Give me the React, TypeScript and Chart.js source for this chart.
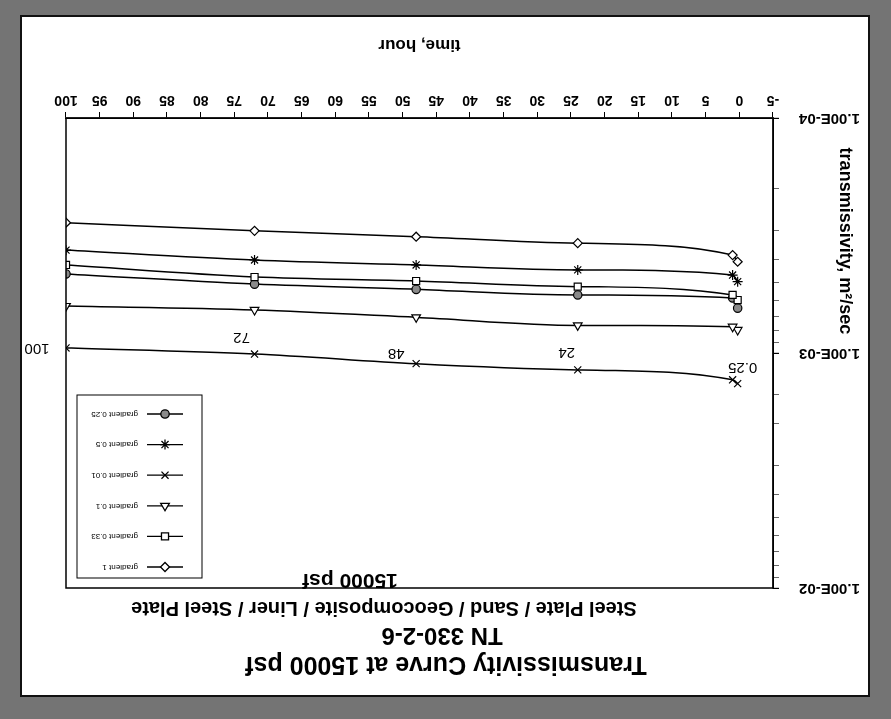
import React, { useEffect, useRef } from 'react';
import { Chart, registerables } from 'chart.js';
import { drawPoint } from 'chart.js/helpers';

Chart.register(...registerables);

// ---------- data ----------
const titleLines = [
  'Transmissivity Curve at 15000 psf',
  'TN 330-2-6',
  'Steel Plate / Sand / Geocomposite / Liner / Steel Plate',
  '15000 psf',
];
const xAxisTitle = 'time, hour';
const yAxisTitle = 'transmissivity, m\u00B2/sec';

const timeHours = [0.25, 1, 24, 48, 72, 100];

const seriesLabels = ['gradient 1', 'gradient 0.33', 'gradient 0.1', 'gradient 0.01', 'gradient 0.5', 'gradient 0.25'];
const gradient1 = [4.09e-4, 3.83e-4, 3.41e-4, 3.2e-4, 3.02e-4, 2.79e-4];
const gradient033 = [5.95e-4, 5.66e-4, 5.22e-4, 4.94e-4, 4.75e-4, 4.22e-4];
const gradient01 = [7.98e-4, 7.73e-4, 7.63e-4, 7.05e-4, 6.56e-4, 6.31e-4];
const gradient001 = [1.35e-3, 1.3e-3, 1.18e-3, 1.11e-3, 1.01e-3, 9.52e-4];
const gradient05 = [4.97e-4, 4.66e-4, 4.43e-4, 4.22e-4, 4.02e-4, 3.65e-4];
const gradient025 = [6.44e-4, 5.83e-4, 5.66e-4, 5.36e-4, 5.09e-4, 4.61e-4];

// labels written next to the gradient 0.01 points
const pointLabels = ['0.25', '', '24', '48', '72', '100'];

const xMin = -5;
const xMax = 100;
const xStep = 5;
const yMin = 1e-4;
const yMax = 1e-2;
const yTickValues = [1e-4, 1e-3, 1e-2];
const yTickLabels = ['1.00E-04', '1.00E-03', '1.00E-02'];

// ---------- styling ----------
const FONT = "'Liberation Sans', Arial, Helvetica, sans-serif";
const seriesValues = [gradient1, gradient033, gradient01, gradient001, gradient05, gradient025];
const seriesStyles = [
  { pointStyle: 'rectRot', radius: 4.5, fill: '#ffffff' },
  { pointStyle: 'rect', radius: 5, fill: '#ffffff' },
  { pointStyle: 'triangle', radius: 5, fill: '#ffffff' },
  { pointStyle: 'crossRot', radius: 5, fill: '#ffffff' },
  { pointStyle: 'star', radius: 5, fill: '#ffffff' },
  { pointStyle: 'circle', radius: 4.2, fill: '#8a8a8a' },
];
const labelSeriesIndex = 3;
const labelOffsets = [
  [-5, 16],
  [0, 0],
  [11, 18],
  [20, 11],
  [13, 17],
  [29, 0],
];
const titleLayout = [
  { x: 422, y: 31, size: 25 },
  { x: 426, y: 60, size: 24 },
  { x: 484, y: 87, size: 20 },
  { x: 518, y: 115, size: 21 },
];

const decorPlugin = {
  id: 'decor',
  beforeDraw(chart: any) {
    const { ctx, width, height } = chart;
    ctx.save();
    ctx.fillStyle = '#ffffff';
    ctx.fillRect(0, 0, width, height);
    ctx.restore();
  },
  afterDraw(chart: any) {
    const { ctx, chartArea: a } = chart;
    ctx.save();
    // plot frame
    ctx.strokeStyle = '#000';
    ctx.lineWidth = 1.5;
    ctx.strokeRect(a.left, a.top, a.right - a.left, a.bottom - a.top);

    ctx.fillStyle = '#000';
    ctx.textAlign = 'center';
    ctx.textBaseline = 'middle';
    // titles
    titleLayout.forEach((t, i) => {
      ctx.font = `bold ${t.size}px ${FONT}`;
      ctx.fillText(titleLines[i], t.x, t.y);
    });
    // x axis title
    ctx.font = `bold 17px ${FONT}`;
    ctx.fillText(xAxisTitle, (a.left + a.right) / 2, 650);
    // y axis title
    ctx.save();
    ctx.translate(23, 454);
    ctx.rotate(-Math.PI / 2);
    ctx.font = `bold 18px ${FONT}`;
    ctx.fillText(yAxisTitle, 0, 0);
    ctx.restore();

    // data labels
    const meta = chart.getDatasetMeta(labelSeriesIndex);
    ctx.font = `15px ${FONT}`;
    pointLabels.forEach((lab, i) => {
      if (!lab) return;
      const p = meta.data[i];
      ctx.fillText(lab, p.x + labelOffsets[i][0], p.y + labelOffsets[i][1]);
    });

    // legend
    const lx = 666;
    const ly = 117;
    const lw = 125;
    const lh = 183;
    ctx.fillStyle = '#fff';
    ctx.fillRect(lx, ly, lw, lh);
    ctx.strokeStyle = '#000';
    ctx.lineWidth = 1;
    ctx.strokeRect(lx, ly, lw, lh);
    chart.data.datasets.forEach((ds: any, i: number) => {
      const y = ly + 11 + i * 30.6;
      ctx.strokeStyle = '#000';
      ctx.lineWidth = 1.3;
      ctx.beginPath();
      ctx.moveTo(lx + 19, y);
      ctx.lineTo(lx + 55, y);
      ctx.stroke();
      ctx.fillStyle = seriesStyles[i].fill;
      drawPoint(ctx, { pointStyle: ds.pointStyle, radius: ds.pointRadius, rotation: 0, borderWidth: 1.2 }, lx + 37, y);
      ctx.fillStyle = '#000';
      ctx.textAlign = 'left';
      ctx.font = `8px ${FONT}`;
      ctx.fillText(ds.label, lx + 64, y);
    });
    ctx.restore();
  },
};

export default function App() {
  const ref = useRef<HTMLCanvasElement>(null);
  useEffect(() => {
    const canvas = ref.current;
    if (!canvas) return;
    const datasets = seriesLabels.map((label, i) => ({
      label,
      data: timeHours.map((t, j) => ({ x: t, y: seriesValues[i][j] })),
      borderColor: '#000',
      borderWidth: 1.5,
      backgroundColor: seriesStyles[i].fill,
      pointStyle: seriesStyles[i].pointStyle,
      pointRadius: seriesStyles[i].radius,
      pointBorderColor: '#000',
      pointBackgroundColor: seriesStyles[i].fill,
      pointBorderWidth: 1.2,
      cubicInterpolationMode: 'monotone',
      fill: false,
    }));
    const chart = new Chart(canvas, {
      type: 'line',
      data: { datasets } as any,
      plugins: [decorPlugin],
      options: {
        animation: false,
        responsive: false,
        devicePixelRatio: 1,
        layout: { padding: { top: 107, right: 44, left: 0, bottom: 0 } },
        plugins: { legend: { display: false }, tooltip: { enabled: false }, title: { display: false } },
        scales: {
          x: {
            type: 'linear',
            min: xMin,
            max: xMax,
            afterFit: (s: any) => {
              s.height = 101;
            },
            ticks: {
              stepSize: xStep,
              color: '#000',
              font: { family: FONT, size: 14, weight: 'bold' },
              padding: 4,
              maxRotation: 0,
              autoSkip: false,
              callback: (v: any) => String(v),
            },
            grid: { drawOnChartArea: false, drawTicks: true, tickLength: 6, color: '#000', lineWidth: 1 },
            border: { display: true, color: '#000', width: 1.5 },
          },
          y: {
            type: 'logarithmic',
            min: yMin,
            max: yMax,
            afterFit: (s: any) => {
              s.width = 95;
            },
            ticks: {
              color: '#000',
              font: { family: FONT, size: 15, weight: 'bold' },
              padding: 20,
              autoSkip: false,
              callback: (v: any) => {
                const idx = yTickValues.findIndex((t) => Math.abs(t - v) / t < 1e-6);
                return idx >= 0 ? yTickLabels[idx] : '';
              },
            },
            grid: {
              drawOnChartArea: false,
              drawTicks: true,
              tickLength: 6,
              color: '#000',
              lineWidth: (c: any) => (yTickValues.some((t) => Math.abs(t - c.tick?.value) / t < 1e-6) ? 1.2 : 0.6),
            },
            border: { display: true, color: '#000', width: 1.5 },
          },
        },
      } as any,
    });
    return () => chart.destroy();
  }, []);

  return (
    <div style={{ position: 'absolute', left: 0, top: 0, width: 891, height: 719, background: '#747474', overflow: 'hidden' }}>
      <div
        style={{
          position: 'absolute',
          left: 20,
          top: 15,
          width: 850,
          height: 682,
          background: '#fff',
          border: '2px solid #111',
          boxSizing: 'border-box',
        }}
      >
        <canvas
          ref={ref}
          width={846}
          height={678}
          style={{ display: 'block', width: 846, height: 678, transform: 'rotate(180deg)' }}
        />
      </div>
    </div>
  );
}
